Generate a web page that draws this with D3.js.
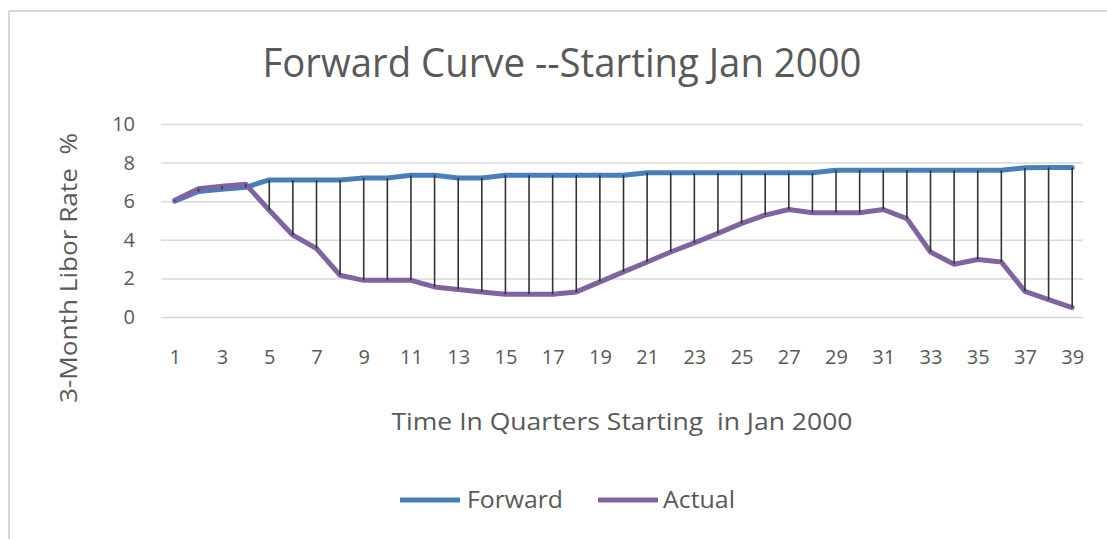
<!DOCTYPE html>
<html><head><meta charset="utf-8">
<script src="https://cdn.jsdelivr.net/npm/d3@7"></script>
<style>body{margin:0;background:#fff}svg{display:block}text{font-family:"Liberation Sans Narrow","Open Sans","Liberation Sans",sans-serif;fill:#595959}</style>
</head><body><svg id="c" width="1107" height="539"></svg>
<script>
const quarters = d3.range(1, 40);
const forward = [6.0,6.5,6.62,6.72,7.1,7.1,7.1,7.1,7.2,7.2,7.35,7.35,7.2,7.2,7.35,7.35,7.35,7.35,7.35,7.35,7.47,7.47,7.47,7.47,7.47,7.47,7.47,7.47,7.6,7.6,7.6,7.6,7.6,7.6,7.6,7.6,7.73,7.75,7.75];
const actual = [6.05,6.65,6.78,6.88,5.53,4.24,3.55,2.16,1.9,1.9,1.9,1.56,1.42,1.3,1.18,1.18,1.18,1.3,1.82,2.34,2.85,3.37,3.84,4.33,4.85,5.28,5.57,5.4,5.4,5.4,5.57,5.1,3.37,2.73,2.98,2.85,1.33,0.9,0.49];
const yTicks = [0,2,4,6,8,10];
const xTicks = d3.range(1, 40, 2);
const seriesNames = ["Forward","Actual"];
const colors = ["#4A7EBB","#8064A2"];

const svg = d3.select("#c");
svg.append("line").attr("x1",9).attr("x2",1107).attr("y1",11).attr("y2",11).attr("stroke","#d9d9d9").attr("stroke-width",2);
svg.append("line").attr("x1",9).attr("x2",9).attr("y1",11).attr("y2",539).attr("stroke","#d9d9d9").attr("stroke-width",2);

const gridL = 161, gridR = 1083;
const x = d3.scalePoint().domain(quarters).range([163,1084]).padding(0.5);
const y = d3.scaleLinear().domain([0,10]).range([317,124]);

const ya = svg.append("g").attr("transform",`translate(${gridL},0)`)
  .call(d3.axisLeft(y).tickValues(yTicks).tickSize(-(gridR-gridL)).tickPadding(26));
ya.select(".domain").remove();
ya.selectAll(".tick line").attr("stroke","#d9d9d9").attr("stroke-width",1.5);
ya.selectAll(".tick text").style("font-size","20px").attr("fill","#595959");

const xa = svg.append("g").attr("transform",`translate(0,317)`)
  .call(d3.axisBottom(x).tickValues(xTicks).tickSize(0).tickPadding(33));
xa.select(".domain").remove();
xa.selectAll(".tick text").style("font-size","20px").attr("fill","#595959");

const line = d3.line().x((d,i)=>x(quarters[i])).y(d=>y(d));
[forward, actual].forEach((s,k)=>{
  svg.append("path").datum(s).attr("d",line).attr("fill","none")
    .attr("stroke",colors[k]).attr("stroke-width",5).attr("stroke-linejoin","round").attr("stroke-linecap","round");
});
// high-low drop lines drawn over the series
svg.append("g").selectAll("line").data(quarters).join("line")
  .attr("x1",d=>x(d)).attr("x2",d=>x(d))
  .attr("y1",(d,i)=>y(forward[i])).attr("y2",(d,i)=>y(actual[i]))
  .attr("stroke","#333").attr("stroke-width",1.6);

svg.append("text").attr("x",562).attr("y",77).attr("text-anchor","middle")
  .attr("textLength",599).attr("lengthAdjust","spacingAndGlyphs")
  .style("font-size","41px").text("Forward Curve --Starting Jan 2000");
svg.append("text").attr("x",622).attr("y",430).attr("text-anchor","middle")
  .attr("textLength",461).attr("lengthAdjust","spacingAndGlyphs")
  .style("font-size","24px").text("Time In Quarters Starting\u00a0 in Jan 2000");
svg.append("text").attr("transform","translate(77,268) rotate(-90)").attr("text-anchor","middle")
  .attr("textLength",270).attr("lengthAdjust","spacingAndGlyphs")
  .style("font-size","24px").text("3-Month Libor Rate\u00a0 %");

const leg = [{x1:400,x2:460,tx:467,tw:96},{x1:598,x2:658,tx:663,tw:72}];
leg.forEach((l,k)=>{
  svg.append("line").attr("x1",l.x1).attr("x2",l.x2).attr("y1",500).attr("y2",500)
    .attr("stroke",colors[k]).attr("stroke-width",5);
  svg.append("text").attr("x",l.tx).attr("y",508).attr("textLength",l.tw).attr("lengthAdjust","spacingAndGlyphs")
    .style("font-size","23px").text(seriesNames[k]);
});
</script></body></html>
